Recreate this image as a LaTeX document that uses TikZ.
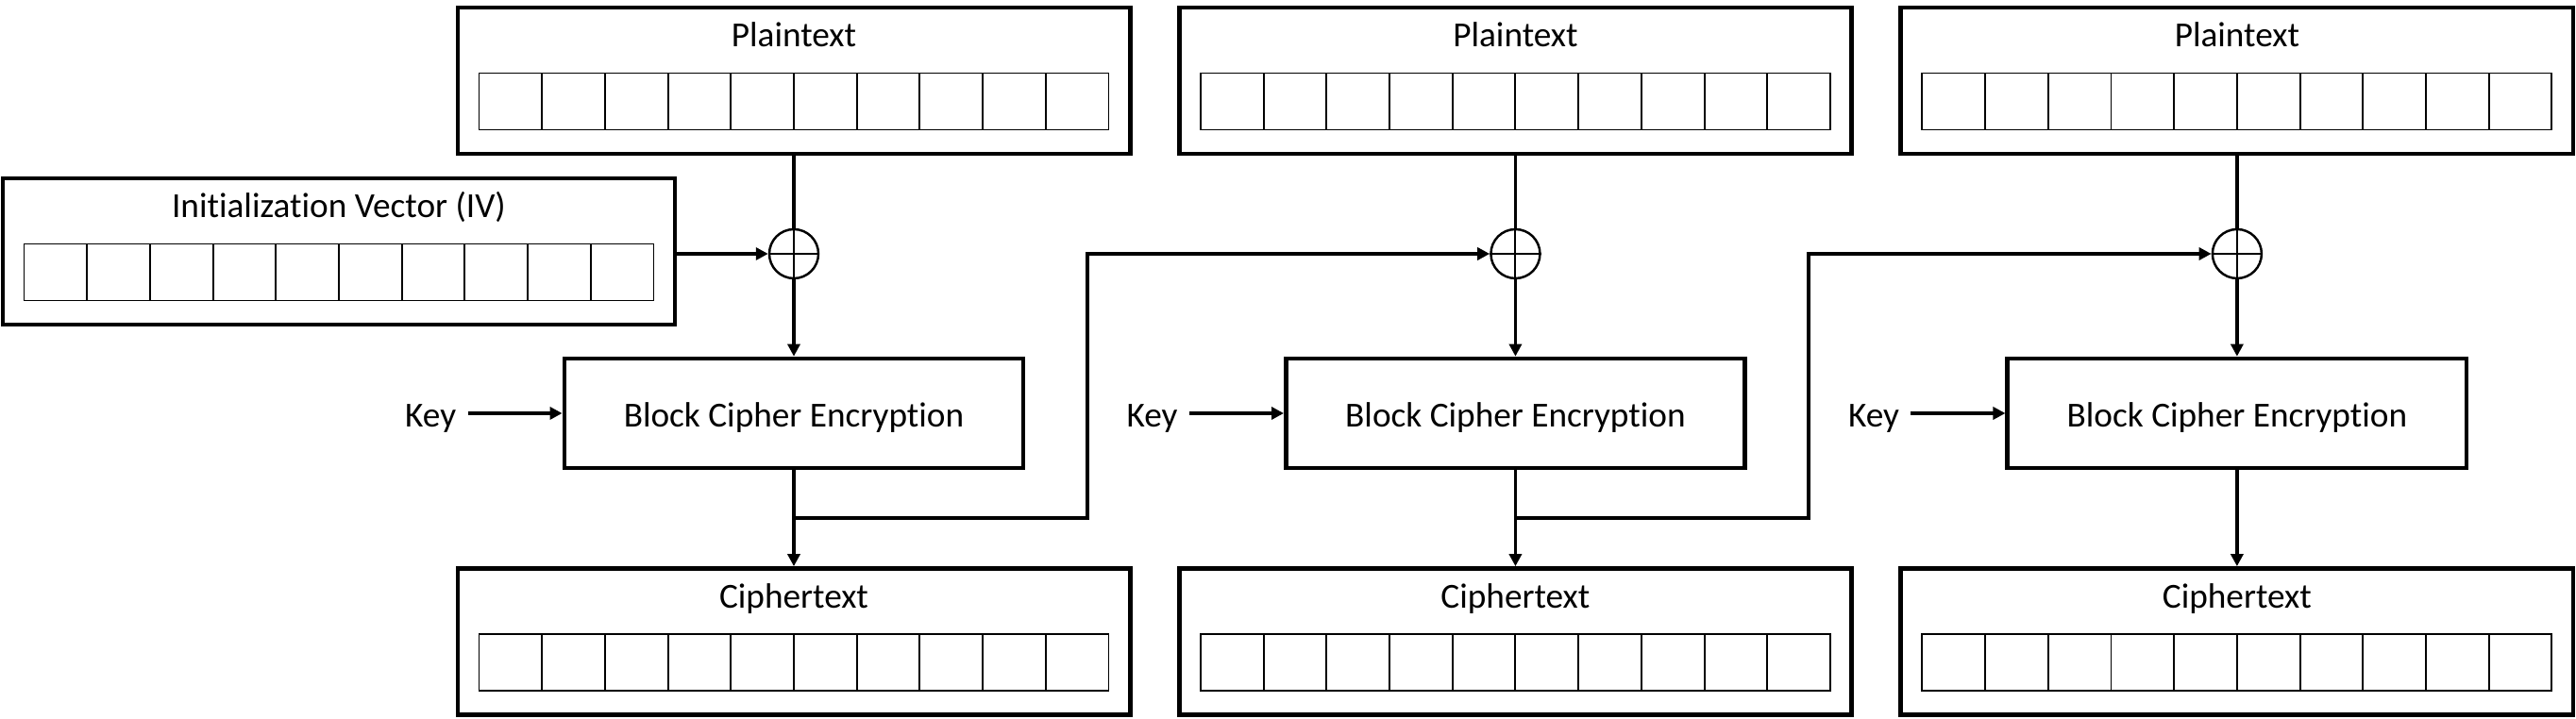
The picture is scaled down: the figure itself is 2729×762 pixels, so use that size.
\documentclass[tikz,border=0pt]{standalone}
\usepackage{fontspec}
\setmainfont{Carlito}[Ligatures=NoCommon,Contextuals=NoAlternate]
\usetikzlibrary{positioning,arrows.meta}

\begin{document}
\begin{tikzpicture}[x=0.01cm,y=0.01cm,auto,
    font=\fontsize{10.6}{12}\selectfont,
    block/.style={draw,rectangle,line width=1.3pt,minimum width=7.12cm,minimum height=1.55cm,inner sep=0pt},
    cipher/.style={draw,rectangle,line width=1.3pt,minimum width=4.86cm,minimum height=1.16cm,text height=0.36cm,text depth=0.07cm},
    keytext/.style={text height=0.36cm,text depth=0.07cm},
    xor/.style={draw,circle,line width=0.7pt,minimum size=0.52cm,inner sep=0pt},
    cell/.style={draw,line width=0.55pt},
    line/.style={line width=1pt},
    arrow/.style={line width=1pt,-{Triangle[length=0.13cm,width=0.13cm]}}]
    \useasboundingbox (0,0) rectangle (2729,-762);

    % Nodes
    \node [block] (pt1) at (841,-85.5) {};
    \node [block, right of=pt1, node distance=7.64cm] (pt2) {};
    \node [block, right of=pt2, node distance=7.64cm] (pt3) {};
    \node [block] (iv) at (359,-266.5) {};
    \node [xor] (x1) at (841,-269) {};
    \node [xor, right of=x1, node distance=7.64cm] (x2) {};
    \node [xor, right of=x2, node distance=7.64cm] (x3) {};
    \node [cipher] (bc1) at (841,-438) {Block Cipher Encryption};
    \node [cipher, right of=bc1, node distance=7.64cm] (bc2) {Block Cipher Encryption};
    \node [cipher, right of=bc2, node distance=7.64cm] (bc3) {Block Cipher Encryption};
    \node [keytext, left=1cm of bc1] (key1) {Key};
    \node [keytext, left=1cm of bc2] (key2) {Key};
    \node [keytext, left=1cm of bc3] (key3) {Key};
    \node [block] (ct1) at (841,-680) {};
    \node [block, right of=ct1, node distance=7.64cm] (ct2) {};
    \node [block, right of=ct2, node distance=7.64cm] (ct3) {};
    \coordinate (f1) at (1152,-549);
    \coordinate (f2) at (1916,-549);

    % Titles and cells
    \foreach \b/\t in {pt1/Plaintext,pt2/Plaintext,pt3/Plaintext,iv/Initialization Vector (IV),ct1/Ciphertext,ct2/Ciphertext,ct3/Ciphertext} {
        \node [anchor=base] (\b-title) at ([yshift=-0.44cm]\b.north) {\t};
        \foreach \i in {0,...,9}
            \draw [cell] ([shift={(-333.5+66.7*\i,-52)}]\b.center) rectangle ++(66.7,60);
    }
    \foreach \x in {x1,x2,x3}
        \draw [line width=0.55pt] (\x.north) -- (\x.south) (\x.west) -- (\x.east);

    % Arrows
    \draw [arrow] (iv.east |- x1) -- (x1);
    \foreach \n in {1,2,3} {
        \draw [line] (pt\n) -- (x\n);
        \draw [arrow] (x\n) -- (bc\n);
        \draw [arrow] (key\n) -- (bc\n);
        \draw [arrow] (bc\n) -- (ct\n);
    }
    \draw [arrow] (bc1 |- f1) -- (f1) |- (x2);
    \draw [arrow] (bc2 |- f2) -- (f2) |- (x3);
\end{tikzpicture}
\end{document}
